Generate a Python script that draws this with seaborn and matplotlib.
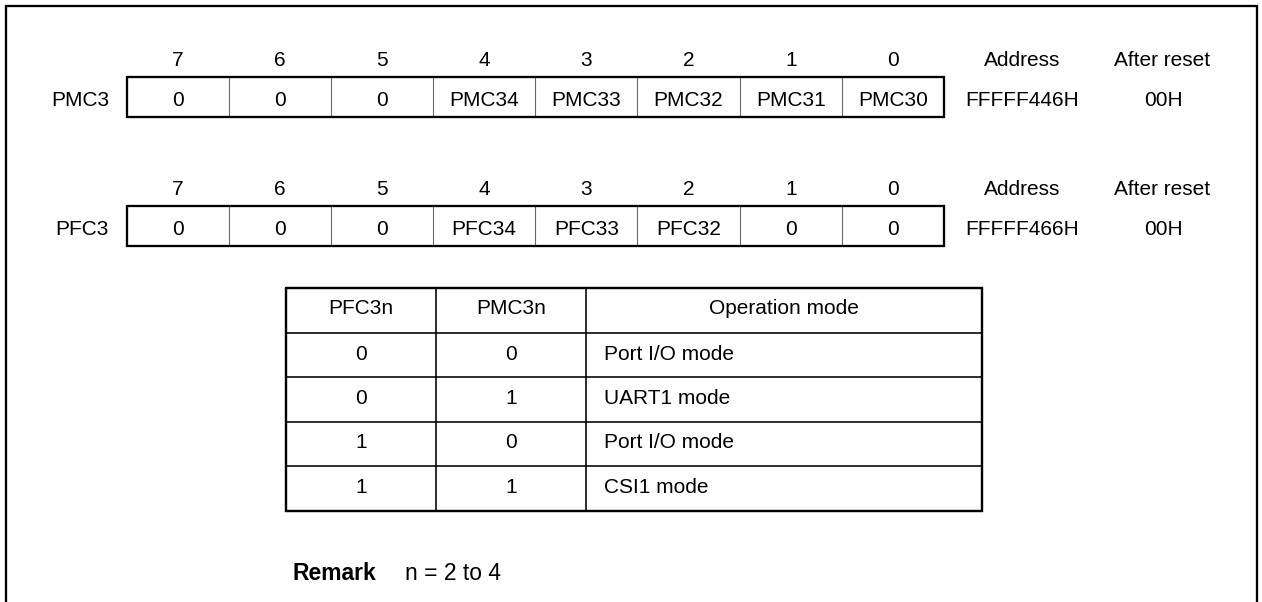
import matplotlib
matplotlib.use("Agg")
import matplotlib.pyplot as plt
import seaborn as sns

# ---------------- data ----------------
bit_numbers = ["7", "6", "5", "4", "3", "2", "1", "0"]
register_names = ["PMC3", "PFC3"]
pmc3_fields = ["0", "0", "0", "PMC34", "PMC33", "PMC32", "PMC31", "PMC30"]
pfc3_fields = ["0", "0", "0", "PFC34", "PFC33", "PFC32", "0", "0"]
register_fields = [pmc3_fields, pfc3_fields]
addresses = ["FFFFF446H", "FFFFF466H"]
reset_values = ["00H", "00H"]
address_header = "Address"
reset_header = "After reset"

table_headers = ["PFC3n", "PMC3n", "Operation mode"]
pfc_col = ["0", "0", "1", "1"]
pmc_col = ["0", "1", "0", "1"]
mode_col = ["Port I/O mode", "UART1 mode", "Port I/O mode", "CSI1 mode"]

remark_label = "Remark"
remark_text = "n = 2 to 4"

# ---------------- style ----------------
sns.set_theme(style="white")
plt.rcParams["font.family"] = ["Liberation Sans", "DejaVu Sans"]
plt.rcParams["text.color"] = "black"
FS = 15
PX = 0.72  # points per pixel at dpi 100

W, H = 1262, 602
fig = plt.figure(figsize=(W / 100, H / 100), dpi=100)
ax = fig.add_axes([0, 0, 1, 1])
ax.set_xlim(0, W)
ax.set_ylim(H, 0)
ax.axis("off")

# outer frame (open at the bottom)
ax.plot([6, 6, 1257, 1257], [H + 5, 6, 6, H + 5], color="black", lw=2.3 * PX,
        solid_joinstyle="miter")

# ---------------- registers ----------------
reg_left, reg_right = 126.5, 944
cell_w = (reg_right - reg_left) / 8
reg_tops = [76.5, 205.5]
reg_h = 40
for r, name in enumerate(register_names):
    top = reg_tops[r]
    bot = top + reg_h
    for i, b in enumerate(bit_numbers):
        cx = reg_left + cell_w * (i + 0.5)
        ax.text(cx, top - 10.5, b, ha="center", va="baseline", fontsize=FS)
        ax.text(cx, top + 29.5, register_fields[r][i], ha="center",
                va="baseline", fontsize=FS)
    for i in range(1, 8):
        x = reg_left + cell_w * i
        ax.plot([x, x], [top, bot], color="#6a6a6a", lw=1.1 * PX)
    ax.plot([reg_left, reg_right, reg_right, reg_left, reg_left],
            [top, top, bot, bot, top], color="black", lw=2.3 * PX,
            solid_joinstyle="miter")
    ax.text(109, top + 29.5, name, ha="right", va="baseline", fontsize=FS)
    ax.text(1022, top - 10.5, address_header, ha="center", va="baseline", fontsize=FS)
    ax.text(1162, top - 10.5, reset_header, ha="center", va="baseline", fontsize=FS)
    ax.text(1022, top + 29.5, addresses[r], ha="center", va="baseline", fontsize=FS)
    ax.text(1163, top + 29.5, reset_values[r], ha="center", va="baseline", fontsize=FS)

# ---------------- table ----------------
col_x = [285.5, 436, 586, 982]
row_y = [287.5, 332.5, 377, 421.5, 466, 510.5]
for x in col_x[1:-1]:
    ax.plot([x, x], [row_y[0], row_y[-1]], color="black", lw=1.6 * PX)
for y in row_y[1:-1]:
    ax.plot([col_x[0], col_x[-1]], [y, y], color="black", lw=1.6 * PX)
ax.plot([col_x[0], col_x[-1], col_x[-1], col_x[0], col_x[0]],
        [row_y[0], row_y[0], row_y[-1], row_y[-1], row_y[0]],
        color="black", lw=2.4 * PX, solid_joinstyle="miter")

c1 = (col_x[0] + col_x[1]) / 2
c2 = (col_x[1] + col_x[2]) / 2
c3 = (col_x[2] + col_x[3]) / 2
ax.text(c1, row_y[0] + 27, table_headers[0], ha="center", va="baseline", fontsize=FS)
ax.text(c2, row_y[0] + 27, table_headers[1], ha="center", va="baseline", fontsize=FS)
ax.text(c3, row_y[0] + 27, table_headers[2], ha="center", va="baseline", fontsize=FS)
for i in range(4):
    yb = row_y[i + 1] + 27
    ax.text(c1, yb, pfc_col[i], ha="center", va="baseline", fontsize=FS)
    ax.text(c2, yb, pmc_col[i], ha="center", va="baseline", fontsize=FS)
    ax.text(604, yb, mode_col[i], ha="left", va="baseline", fontsize=FS)

# ---------------- remark ----------------
ax.text(292, 580.5, remark_label, ha="left", va="baseline", fontsize=16.5,
        fontweight="bold")
ax.text(405, 580.5, remark_text, ha="left", va="baseline", fontsize=16.5)

fig.savefig("out.png", dpi=100, facecolor="white")
